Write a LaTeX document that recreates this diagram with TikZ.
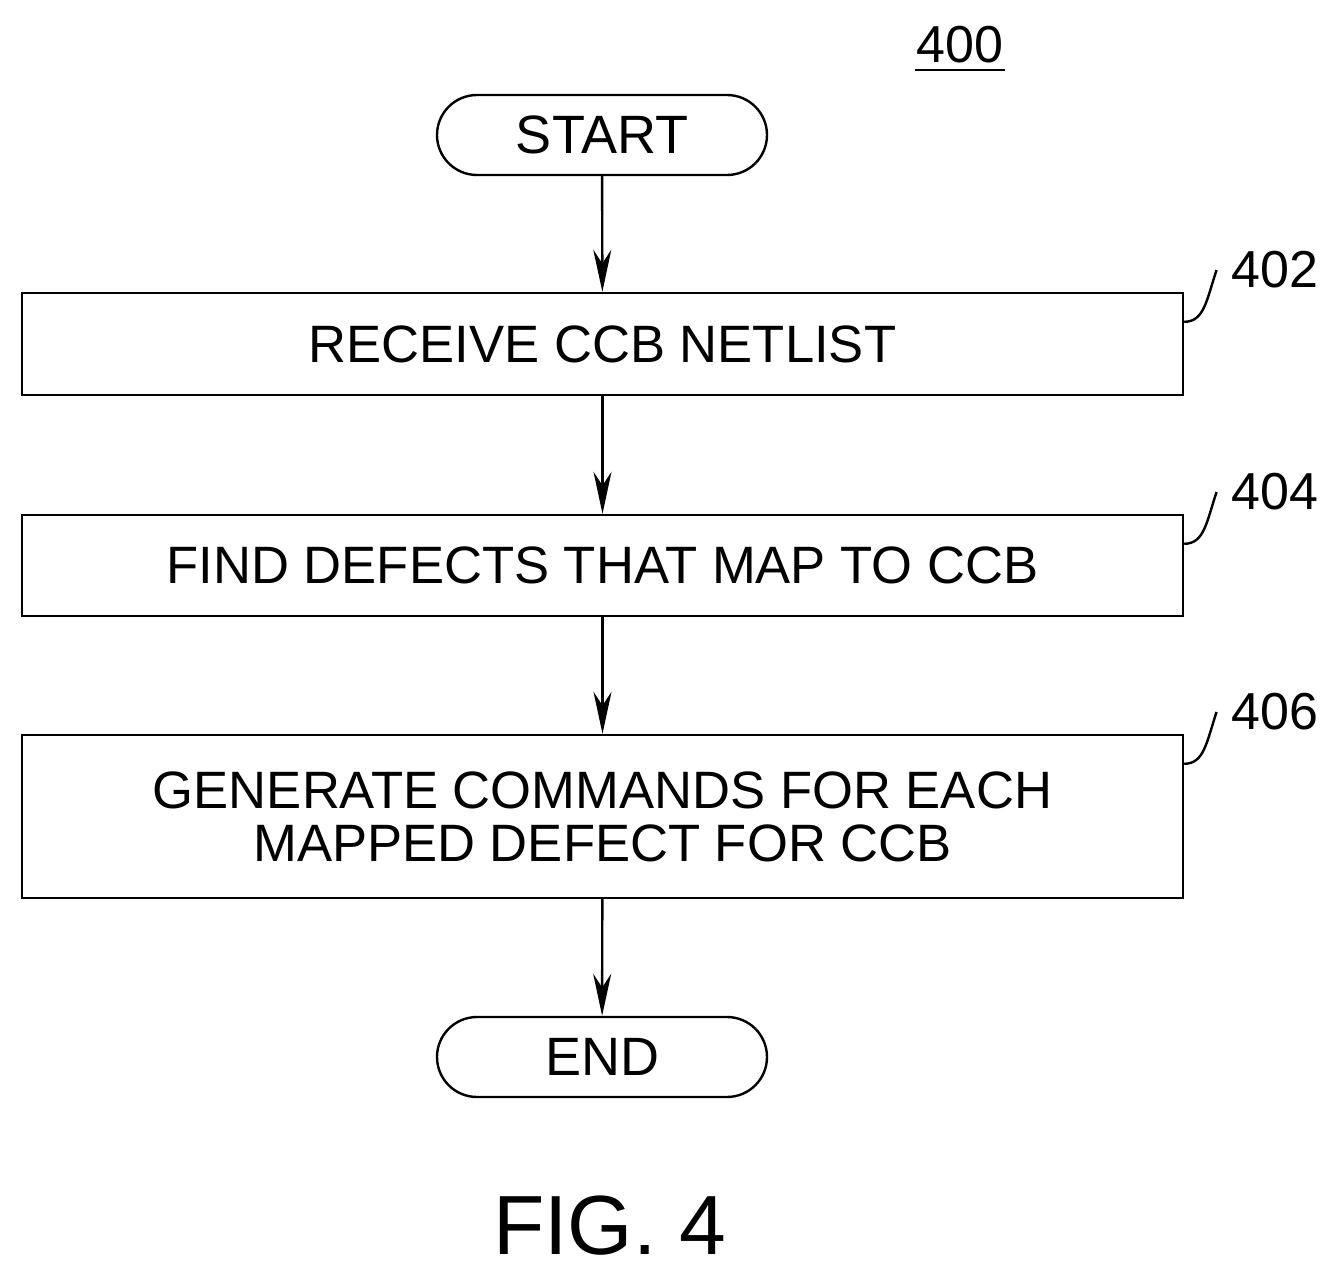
\documentclass[tikz,border=0pt]{standalone}
\usepackage{fontspec}
\setmainfont{Liberation Sans}
\usetikzlibrary{arrows.meta,shapes.misc}
\begin{document}
\begin{tikzpicture}[x=0.5pt,y=-0.5pt,
  box/.style={draw,line width=1.2pt,minimum width=580.5pt,inner sep=0pt,font=\fontsize{26.3}{28.5}\selectfont,align=center},
  term/.style={draw,line width=1.2pt,rounded rectangle,minimum width=165pt,minimum height=40pt,inner sep=0pt,font=\fontsize{27}{29}\selectfont},
  arr/.style={line width=1.2pt,-{Stealth[length=21pt,width=9pt]}},
  ref/.style={font=\fontsize{26}{28}\selectfont},
  lead/.style={line width=1.2pt}]
\useasboundingbox (0,0) rectangle (1338,1278);
\node[ref] (n400) at (960,45) {400};
\draw[lead] (915,70) -- (1005,70);
\node[term] (start) at (602,135) {START};
\node[box,minimum height=51pt] (b402) at (602.5,344) {RECEIVE CCB NETLIST};
\node[box,minimum height=50.5pt] (b404) at (602.5,565.5) {FIND DEFECTS THAT MAP TO CCB};
\node[box,minimum height=81.5pt] (b406) at (602.5,816.5) {GENERATE COMMANDS FOR EACH\\[-2pt]MAPPED DEFECT FOR CCB};
\node[term] (end) at (602,1057) {END};
\node[font=\fontsize{42}{44}\selectfont] (fig) at (610,1226) {FIG. 4};
\draw[arr] (start) -- (b402);
\draw[arr] (b402) -- (b404);
\draw[arr] (b404) -- (b406);
\draw[arr] (b406) -- (end);
\node[ref] (l402) at (1275,270) {402};
\node[ref] (l404) at (1275,492) {404};
\node[ref] (l406) at (1275,712) {406};
\foreach \b/\l in {b402/l402,b404/l404,b406/l406}{
  \coordinate (s) at ([yshift=-15pt]\b.north east);
  \draw[lead] (s) .. controls +(20,0) and +(-10,30) .. ([xshift=-4pt]\l.west);
}
\end{tikzpicture}
\end{document}
